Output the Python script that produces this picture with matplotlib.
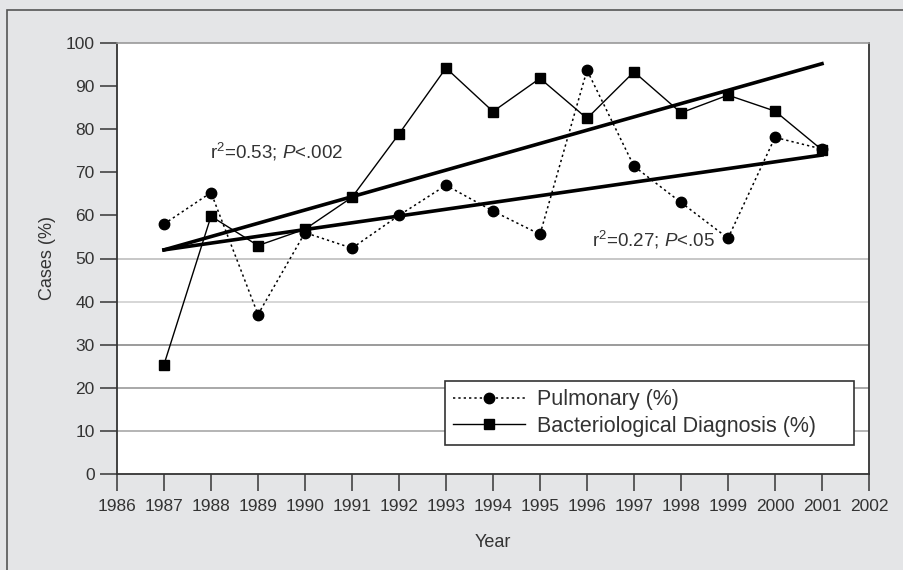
import numpy as np
import matplotlib
matplotlib.use("Agg")
import matplotlib.pyplot as plt
from matplotlib.patches import Rectangle

# data
years = [1987, 1988, 1989, 1990, 1991, 1992, 1993, 1994, 1995, 1996, 1997, 1998, 1999, 2000, 2001]
pulmonary = [58, 65.3, 37, 56, 52.4, 60, 67, 61, 55.6, 93.7, 71.4, 63, 54.7, 78.1, 75.4]
bacterio = [25.4, 59.8, 53, 56.8, 64.2, 78.9, 94.2, 84.1, 91.8, 82.5, 93.3, 83.8, 87.9, 84.2, 75.2]

# fitted trend lines, endpoints as drawn
trend_years = [1987, 2001]
trend_bacterio = [52, 95.2]
trend_pulmonary = [52, 74]

xticks = list(range(1986, 2003))
yticks = list(range(0, 101, 10))
grid_levels = [10, 20, 30, 40, 50]
grid_colors = ['#a8a8a8', '#9a9a9a', '#8a8a8a', '#cfcfcf', '#bdbdbd']

plt.rcParams['font.family'] = ['Liberation Sans', 'DejaVu Sans']
plt.rcParams['mathtext.fontset'] = 'custom'
plt.rcParams['mathtext.rm'] = 'Liberation Sans'
plt.rcParams['mathtext.it'] = 'Liberation Sans:italic'
txt = '#333333'

fig = plt.figure(figsize=(9.04, 5.70), dpi=100, facecolor='#e4e5e7')
ax = fig.add_axes([117/904, 1 - 474/570, (869 - 117)/904, (474 - 43)/570])
ax.set_facecolor('white')

# outer frame
fig.patches.append(Rectangle((7/904, -0.1), 1.2, 1 - 10/570 + 0.1, transform=fig.transFigure,
                             fill=False, edgecolor='#555555', lw=1.2))

for lvl, c in zip(grid_levels, grid_colors):
    ax.axhline(lvl, color=c, lw=1.2, zorder=1)

ax.plot(trend_years, trend_bacterio, color='black', lw=2.6, zorder=2)
ax.plot(trend_years, trend_pulmonary, color='black', lw=2.6, zorder=2)

ax.plot(years, pulmonary, color='black', ls=(0, (1.5, 2)), lw=1.1, marker='o', ms=7.5,
        label='Pulmonary (%)', zorder=3)
ax.plot(years, bacterio, color='black', ls='-', lw=1.0, marker='s', ms=7,
        label='Bacteriological Diagnosis (%)', zorder=3)

ax.text(1987.98, 74.7, r'r$^2$=0.53; $P$<.002', fontsize=13.5, color=txt, va='center')
ax.text(1996.1, 54.3, r'r$^2$=0.27; $P$<.05', fontsize=13.5, color=txt, va='center')

ax.set_xlim(1986, 2002)
ax.set_ylim(0, 100)
ax.set_xticks(xticks)
ax.set_yticks(yticks)
ax.tick_params(axis='both', direction='out', length=12, width=1.2, color='#444444',
               labelsize=12.5, labelcolor=txt, pad=4)
ax.tick_params(axis='x', pad=6)

for side in ['left', 'bottom', 'right']:
    ax.spines[side].set_color('#333333')
    ax.spines[side].set_linewidth(1.3)
ax.spines['top'].set_color('#999999')
ax.spines['top'].set_linewidth(1.2)

ax.set_xlabel('Year', fontsize=13, color=txt, labelpad=14.5)
ax.set_ylabel('Cases (%)', fontsize=13, color=txt, labelpad=7)

leg = ax.legend(loc='lower left', bbox_to_anchor=(0.436, 0.067, 0.544, 0.16), mode='expand',
                fontsize=15.5, frameon=True, fancybox=False, framealpha=1, edgecolor='#333333',
                handlelength=3.3, handletextpad=0.6, labelspacing=0.25,
                borderpad=0.4, borderaxespad=0, labelcolor=txt)
leg.get_frame().set_linewidth(1.2)

fig.savefig('out.png', dpi=100, facecolor=fig.get_facecolor())
